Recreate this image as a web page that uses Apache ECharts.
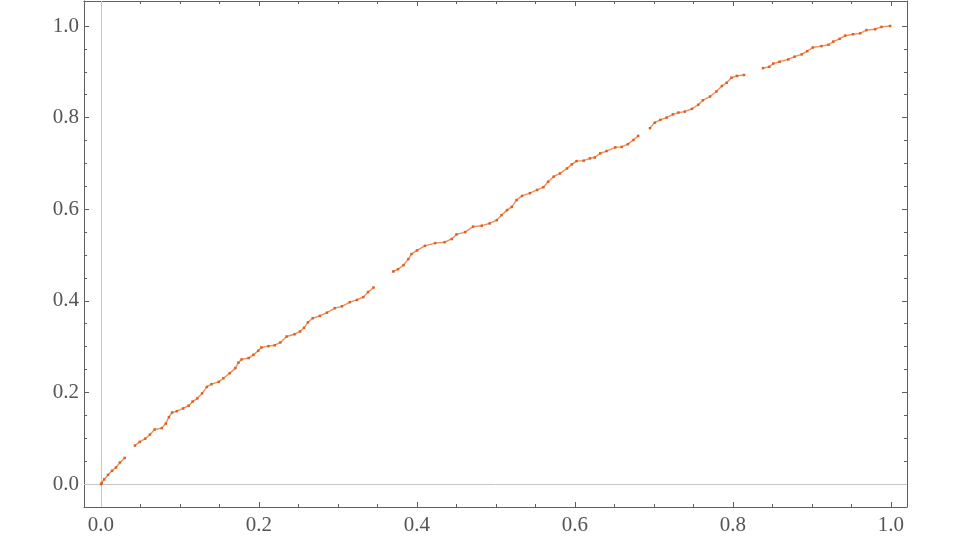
<!DOCTYPE html>
<html>
<head>
<meta charset="utf-8">
<script src="https://cdn.jsdelivr.net/npm/echarts@6/dist/echarts.min.js"></script>
<style>
  html, body { margin: 0; padding: 0; background: #fff; }
  #chart { width: 960px; height: 540px; }
</style>
</head>
<body>
<div id="chart"></div>
<script>
// tick positions
var majorTicks = [0, 0.2, 0.4, 0.6, 0.8, 1.0];
var minorTicks = [0, 0.05, 0.1, 0.15, 0.2, 0.25, 0.3, 0.35, 0.4, 0.45, 0.5,
                  0.55, 0.6, 0.65, 0.7, 0.75, 0.8, 0.85, 0.9, 0.95, 1.0];

// curve, split where the dots leave a gap
var segA = [[0.000, 0.000], [0.001, 0.002], [0.004, 0.010], [0.009, 0.020], [0.014, 0.029],
            [0.019, 0.036], [0.024, 0.047], [0.030, 0.057]];
var segB = [[0.043, 0.084], [0.049, 0.092], [0.056, 0.099], [0.062, 0.108], [0.068, 0.119],
            [0.077, 0.122], [0.082, 0.132], [0.086, 0.146], [0.090, 0.156], [0.096, 0.159],
            [0.104, 0.165], [0.111, 0.171], [0.116, 0.180], [0.122, 0.187], [0.128, 0.198],
            [0.134, 0.212], [0.140, 0.218], [0.149, 0.223], [0.155, 0.231], [0.163, 0.242],
            [0.170, 0.253], [0.174, 0.265], [0.178, 0.272], [0.187, 0.275], [0.193, 0.282],
            [0.199, 0.291], [0.203, 0.298], [0.212, 0.301], [0.220, 0.303], [0.227, 0.309],
            [0.235, 0.322], [0.245, 0.327], [0.252, 0.333], [0.257, 0.341], [0.262, 0.353],
            [0.268, 0.362], [0.277, 0.367], [0.286, 0.374], [0.296, 0.384], [0.305, 0.388],
            [0.315, 0.397], [0.324, 0.402], [0.332, 0.408], [0.338, 0.419], [0.345, 0.429]];
var segC = [[0.370, 0.464], [0.376, 0.469], [0.383, 0.478], [0.389, 0.491], [0.393, 0.502],
            [0.400, 0.510], [0.410, 0.520], [0.423, 0.526], [0.435, 0.528], [0.444, 0.535],
            [0.450, 0.545], [0.461, 0.550], [0.471, 0.562], [0.482, 0.564], [0.492, 0.569],
            [0.501, 0.576], [0.507, 0.587], [0.514, 0.598], [0.520, 0.605], [0.526, 0.620],
            [0.533, 0.629], [0.543, 0.635], [0.552, 0.642], [0.560, 0.648], [0.566, 0.660],
            [0.573, 0.671], [0.581, 0.678], [0.590, 0.689], [0.596, 0.698], [0.602, 0.705],
            [0.611, 0.706], [0.619, 0.711], [0.625, 0.713], [0.632, 0.722], [0.640, 0.727],
            [0.651, 0.735], [0.659, 0.736], [0.667, 0.742], [0.674, 0.751], [0.680, 0.760]];
var segD = [[0.695, 0.777], [0.701, 0.789], [0.708, 0.795], [0.716, 0.800], [0.724, 0.807],
            [0.731, 0.811], [0.739, 0.813], [0.748, 0.819], [0.756, 0.828], [0.762, 0.838],
            [0.771, 0.846], [0.779, 0.857], [0.786, 0.869], [0.792, 0.876], [0.798, 0.887],
            [0.805, 0.891], [0.814, 0.893]];
var segE = [[0.838, 0.908], [0.846, 0.911], [0.851, 0.918], [0.859, 0.922], [0.870, 0.927],
            [0.878, 0.933], [0.887, 0.938], [0.894, 0.945], [0.901, 0.953], [0.912, 0.956],
            [0.921, 0.959], [0.927, 0.966], [0.935, 0.972], [0.942, 0.979], [0.952, 0.982],
            [0.961, 0.984], [0.969, 0.991], [0.980, 0.993], [0.988, 0.998], [0.999, 1.000]];

var frameColor = '#5f5f5f';
var dotColor = '#e35f19';
var labelFont = "'Liberation Serif', 'DejaVu Serif', serif";

var xMin = -0.0215, xMax = 1.0203;
var yMin = -0.0502, yMax = 1.0546;

function frameAxis(pos, lo, hi, ticks, len, withLabels, withLine) {
    return {
        type: 'value',
        position: pos,
        min: lo,
        max: hi,
        axisLine: { show: withLine, onZero: false, lineStyle: { color: frameColor, width: 1 } },
        axisTick: { show: true, inside: true, length: len, customValues: ticks,
                    lineStyle: { color: frameColor, width: 1 } },
        axisLabel: {
            show: withLabels,
            customValues: ticks,
            margin: pos === 'left' ? 5 : 8,
            color: '#555',
            fontSize: 21,
            fontFamily: labelFont,
            formatter: function (v) { return v.toFixed(1); }
        },
        splitLine: { show: false }
    };
}

function segSeries(data, withZeroLines) {
    var s = {
        type: 'line',
        data: data,
        xAxisIndex: 0,
        yAxisIndex: 0,
        showSymbol: true,
        symbol: 'rect',
        symbolSize: 2.5,
        itemStyle: { color: dotColor },
        lineStyle: { color: dotColor, width: 1.4, opacity: 0.7 },
        silent: true,
        animation: false,
        z: 3
    };
    if (withZeroLines) {
        s.markLine = {
            silent: true,
            symbol: 'none',
            label: { show: false },
            lineStyle: { color: '#c6c6c6', width: 1, type: 'solid' },
            data: [{ xAxis: 0 }, { yAxis: 0 }],
            z: 1
        };
    }
    return s;
}

var chart = echarts.init(document.getElementById('chart'));
chart.setOption({
    animation: false,
    backgroundColor: '#fff',
    grid: { left: 84, right: 53, top: 1, bottom: 33, containLabel: false },
    xAxis: [
        frameAxis('bottom', xMin, xMax, majorTicks, 5, true, true),
        frameAxis('bottom', xMin, xMax, minorTicks, 3, false, false),
        frameAxis('top', xMin, xMax, majorTicks, 5, false, true),
        frameAxis('top', xMin, xMax, minorTicks, 3, false, false)
    ],
    yAxis: [
        frameAxis('left', yMin, yMax, majorTicks, 5, true, true),
        frameAxis('left', yMin, yMax, minorTicks, 3, false, false),
        frameAxis('right', yMin, yMax, majorTicks, 5, false, true),
        frameAxis('right', yMin, yMax, minorTicks, 3, false, false)
    ],
    series: [
        segSeries(segA, true),
        segSeries(segB, false),
        segSeries(segC, false),
        segSeries(segD, false),
        segSeries(segE, false)
    ]
});
</script>
</body>
</html>
